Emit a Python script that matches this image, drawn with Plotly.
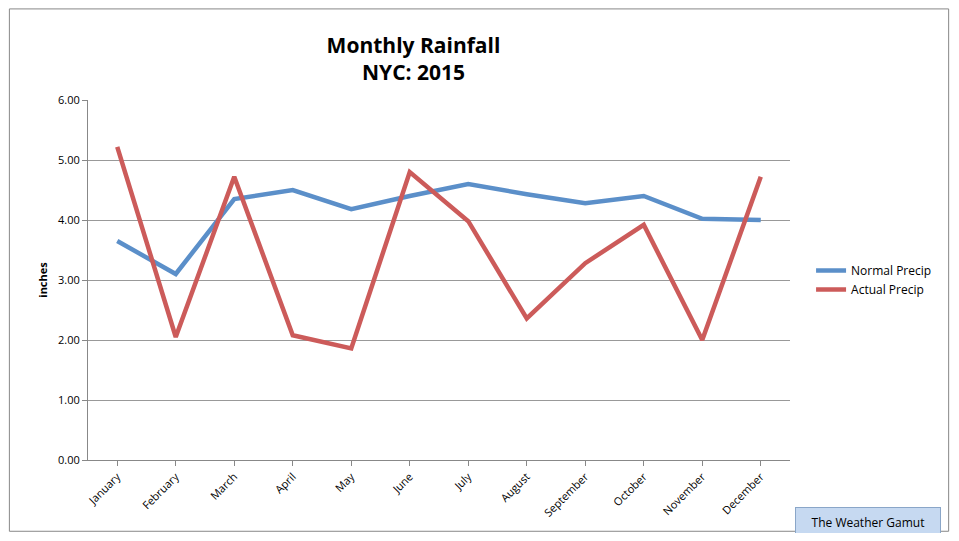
import plotly.graph_objects as go

months = ["January", "February", "March", "April", "May", "June", "July",
          "August", "September", "October", "November", "December"]
normal_precip = [3.65, 3.10, 4.35, 4.50, 4.18, 4.40, 4.60, 4.43, 4.28, 4.40, 4.02, 4.00]
actual_precip = [5.22, 2.05, 4.72, 2.08, 1.86, 4.80, 3.98, 2.36, 3.28, 3.92, 2.00, 4.72]

fig = go.Figure()
fig.add_trace(go.Scatter(x=months, y=normal_precip, name="Normal Precip", mode="lines",
                         line=dict(color="#5b8fc9", width=4.5)))
fig.add_trace(go.Scatter(x=months, y=actual_precip, name="Actual Precip", mode="lines",
                         line=dict(color="#cc5b5a", width=4.5)))

# page body has an 8px margin, so the figure is kept a bit smaller than the window
fig.update_layout(
    width=943, height=525,
    margin=dict(l=80, r=161, t=92, b=73),
    paper_bgcolor="white", plot_bgcolor="white",
    font=dict(family="Open Sans, Liberation Sans, sans-serif", color="black", size=11),
    title=dict(text="<b>Monthly Rainfall<br>NYC: 2015</b>", x=0.43, xanchor="center",
               y=0.915, yanchor="middle", font=dict(size=21)),
    legend=dict(x=1.03, y=0.5, xanchor="left", yanchor="middle",
                font=dict(size=12), tracegroupgap=8, itemwidth=30),
    showlegend=True,
)
fig.update_xaxes(type="category", range=[-0.5, 11.5], tickangle=-45, showgrid=False,
                 showline=True, linecolor="#888", ticks="outside", tickcolor="#888",
                 ticklen=5, tickfont=dict(size=11))
fig.update_yaxes(range=[0, 6], dtick=1, tickformat=".2f", showgrid=True, gridcolor="#999",
                 showline=True, linecolor="#888", ticks="outside", tickcolor="#888",
                 ticklen=5, zeroline=False,
                 title=dict(text="<b>inches</b>", font=dict(size=11), standoff=8))

# outer chart border
fig.add_shape(type="rect", xref="paper", yref="paper", x0=-0.112, x1=1.226, y0=-0.198, y1=1.253,
              line=dict(color="#888", width=1))
fig.add_annotation(text="The Weather Gamut", xref="paper", yref="paper", x=1.111, y=-0.172,
                   xanchor="center", yanchor="middle", showarrow=False,
                   font=dict(size=12), bgcolor="#c6d9f1", bordercolor="#8aa6c8",
                   borderwidth=1, width=142, height=26)

fig.write_html("out.html")
